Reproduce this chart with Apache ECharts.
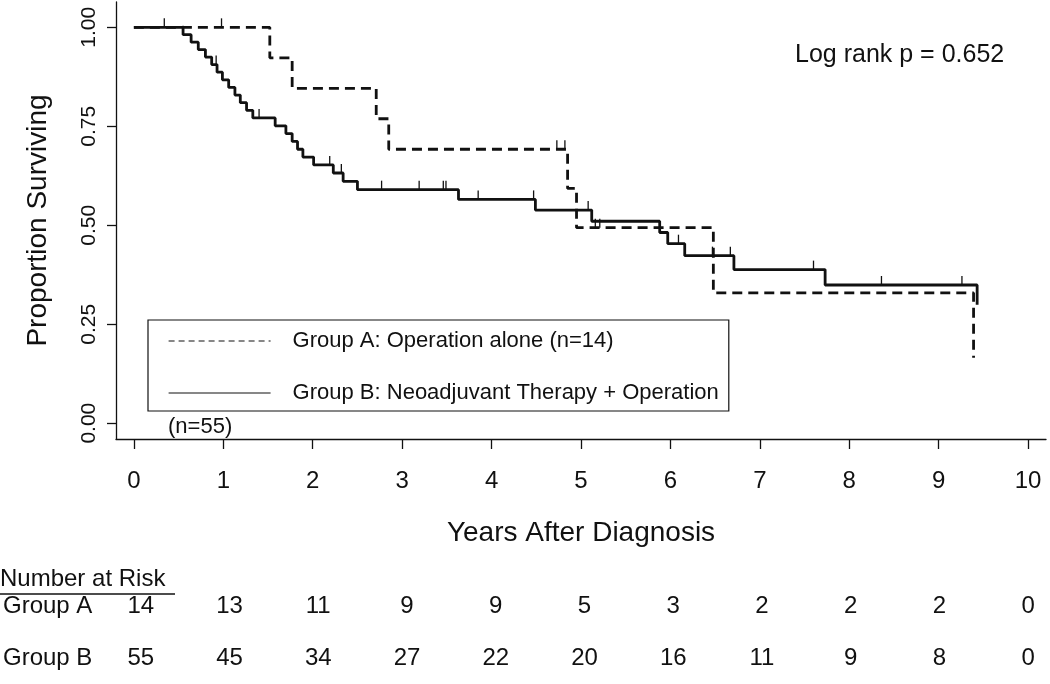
<!DOCTYPE html>
<html><head><meta charset="utf-8">
<script src="https://cdn.jsdelivr.net/npm/echarts@6/dist/echarts.min.js"></script>
<style>html,body{margin:0;padding:0;background:#fff}#c{width:1050px;height:684px}</style>
</head><body><div id="c"></div>
<script>
const FONT = '"Liberation Sans", Arial, Helvetica, sans-serif';
const INK = '#111';

const groupAName = 'Group A: Operation alone (n=14)';
const groupBName = 'Group B: Neoadjuvant Therapy + Operation';

// Kaplan-Meier step points (time in years, proportion surviving)
const groupATimes = [0, 1.52, 1.77, 2.71, 2.85, 4.85, 4.95, 6.48, 9.39];
const groupASurv  = [1, 0.923, 0.846, 0.769, 0.692, 0.593, 0.494, 0.329, 0.165];
const groupACensor = [0.98, 4.73, 4.82, 5.16, 5.21];

const groupBTimes = [0, 0.55, 0.64, 0.72, 0.80, 0.87, 0.93, 0.99, 1.06, 1.13, 1.19, 1.26, 1.33,
  1.58, 1.70, 1.77, 1.83, 1.89, 2.01, 2.23, 2.34, 2.50, 3.63, 4.49, 5.12, 5.88, 5.97, 6.16, 6.71, 7.73, 9.43];
const groupBSurv  = [1, 0.9815, 0.9626, 0.9437, 0.9249, 0.9060, 0.8867, 0.8674, 0.8482, 0.8289, 0.8096, 0.7903, 0.7711,
  0.7513, 0.7315, 0.7117, 0.6920, 0.6722, 0.6524, 0.6320, 0.6110, 0.5899, 0.5653, 0.5384, 0.5101, 0.4817, 0.4534, 0.4232, 0.3879, 0.3491, 0.2992];
const groupBCensor = [0.34, 0.55, 0.92, 1.40, 2.19, 2.32, 2.77, 3.19, 3.46, 3.49, 3.85, 4.47, 5.08, 6.09, 6.47, 6.67, 7.60, 8.36, 9.26];

const xTicks = [0, 1, 2, 3, 4, 5, 6, 7, 8, 9, 10];
const yTicks = [0, 0.25, 0.5, 0.75, 1];

const riskGroups = ['Group A', 'Group B'];
const riskA = [14, 13, 11, 9, 9, 5, 3, 2, 2, 2, 0];
const riskB = [55, 45, 34, 27, 22, 20, 16, 11, 9, 8, 0];

function pairs(ts, ss) { return ts.map((t, i) => [t, ss[i]]); }
function survAt(ts, ss, t) { let s = ss[0]; for (let i = 0; i < ts.length; i++) if (ts[i] <= t) s = ss[i]; return s; }
function censorPts(cs, ts, ss) { return cs.map(t => [t, survAt(ts, ss, t)]); }

const chart = echarts.init(document.getElementById('c'), null, { renderer: 'canvas' });
const censorStyle = {
  type: 'scatter', symbol: 'rect', symbolSize: [1.3, 9], symbolOffset: [0, -4.5],
  itemStyle: { color: INK, opacity: 1 }, silent: true, z: 4
};
const riskLabel = { show: true, position: 'inside', formatter: p => String(p.value[2]),
  fontSize: 24, color: INK, fontFamily: FONT, textBorderWidth: 0 };
chart.setOption({
  animation: false,
  backgroundColor: '#fff',
  textStyle: { fontFamily: FONT, color: INK },
  title: {
    text: 'Log rank p = 0.652', left: 790, top: 38,
    textStyle: { fontFamily: FONT, fontSize: 25, fontWeight: 'normal', color: INK }
  },
  legend: {
    data: [
      { name: groupAName, lineStyle: { type: [6, 4] } },
      { name: groupBName }
    ],
    orient: 'vertical', left: 148, top: 320,
    itemWidth: 102, itemHeight: 22, itemGap: 30,
    padding: [10, 10, 7, 20],
    borderColor: INK, borderWidth: 1.2,
    lineStyle: { width: 1.2 },
    itemStyle: { color: 'rgba(0,0,0,0)', borderWidth: 0, opacity: 0 },
    selectedMode: false,
    textStyle: { fontFamily: FONT, fontSize: 22, color: INK, padding: [0, 0, 0, 17] }
  },
  grid: [
    { left: 116, right: 4, top: 2, bottom: 245 },
    { left: 116, right: 4, top: 581, height: 108 }
  ],
  xAxis: [
    {
      type: 'value', gridIndex: 0, min: -0.2, max: 10.2,
      axisLine: { show: true, onZero: false, lineStyle: { color: INK, width: 1.3 } },
      axisTick: { show: true, customValues: xTicks, length: 10, lineStyle: { color: INK, width: 1.3 } },
      axisLabel: { customValues: xTicks, fontSize: 24, margin: 30, color: INK, fontFamily: FONT },
      splitLine: { show: false },
      name: 'Years After Diagnosis', nameLocation: 'middle', nameGap: 80,
      nameTextStyle: { fontSize: 28, color: INK, fontFamily: FONT }
    },
    { type: 'value', gridIndex: 1, min: -0.2, max: 10.2, show: false }
  ],
  yAxis: [
    {
      type: 'value', gridIndex: 0, min: -0.04, max: 1.064,
      axisLine: { show: true, onZero: false, lineStyle: { color: INK, width: 1.3 } },
      axisTick: { show: true, customValues: yTicks, length: 9, lineStyle: { color: INK, width: 1.3 } },
      axisLabel: { customValues: yTicks, rotate: 90, fontSize: 21, margin: 16, color: INK, fontFamily: FONT,
        formatter: v => Number(v).toFixed(2) },
      splitLine: { show: false },
      name: 'Proportion Surviving', nameLocation: 'middle', nameGap: 64,
      nameTextStyle: { fontSize: 28, color: INK, fontFamily: FONT }
    },
    {
      type: 'category', gridIndex: 1, data: riskGroups, inverse: true,
      axisLine: { show: false }, axisTick: { show: false },
      axisLabel: { align: 'left', margin: 120, fontSize: 24, color: INK, fontFamily: FONT }
    }
  ],
  series: [
    {
      name: groupBName, type: 'line', step: 'end', symbol: 'none', showSymbol: false, z: 3,
      data: pairs(groupBTimes, groupBSurv),
      lineStyle: { color: INK, width: 2.8, type: 'solid' }, itemStyle: { color: INK }
    },
    {
      name: groupAName, type: 'line', step: 'end', symbol: 'none', showSymbol: false, z: 3,
      data: pairs(groupATimes, groupASurv),
      lineStyle: { color: INK, width: 2.8, type: [10, 6] }, itemStyle: { color: INK }
    },
    Object.assign({ name: 'censorA', data: censorPts(groupACensor, groupATimes, groupASurv) }, censorStyle),
    Object.assign({ name: 'censorB', data: censorPts(groupBCensor, groupBTimes, groupBSurv) }, censorStyle),
    {
      name: 'riskA', type: 'scatter', xAxisIndex: 1, yAxisIndex: 1, symbolSize: 0, silent: true,
      itemStyle: { opacity: 1 }, data: riskA.map((n, i) => [xTicks[i], riskGroups[0], n]), label: riskLabel
    },
    {
      name: 'riskB', type: 'scatter', xAxisIndex: 1, yAxisIndex: 1, symbolSize: 0, silent: true,
      itemStyle: { opacity: 1 }, data: riskB.map((n, i) => [xTicks[i], riskGroups[1], n]), label: riskLabel
    }
  ],
  graphic: [
    { type: 'text', left: 168, top: 416, style: { text: '(n=55)', font: '22px ' + FONT, fill: INK } },
    { type: 'text', left: 0, top: 567, style: { text: 'Number at Risk', font: '24px ' + FONT, fill: INK } },
    { type: 'line', shape: { x1: 0, y1: 594, x2: 175, y2: 594 }, style: { stroke: INK, lineWidth: 1.5 } }
  ]
});
</script></body></html>
